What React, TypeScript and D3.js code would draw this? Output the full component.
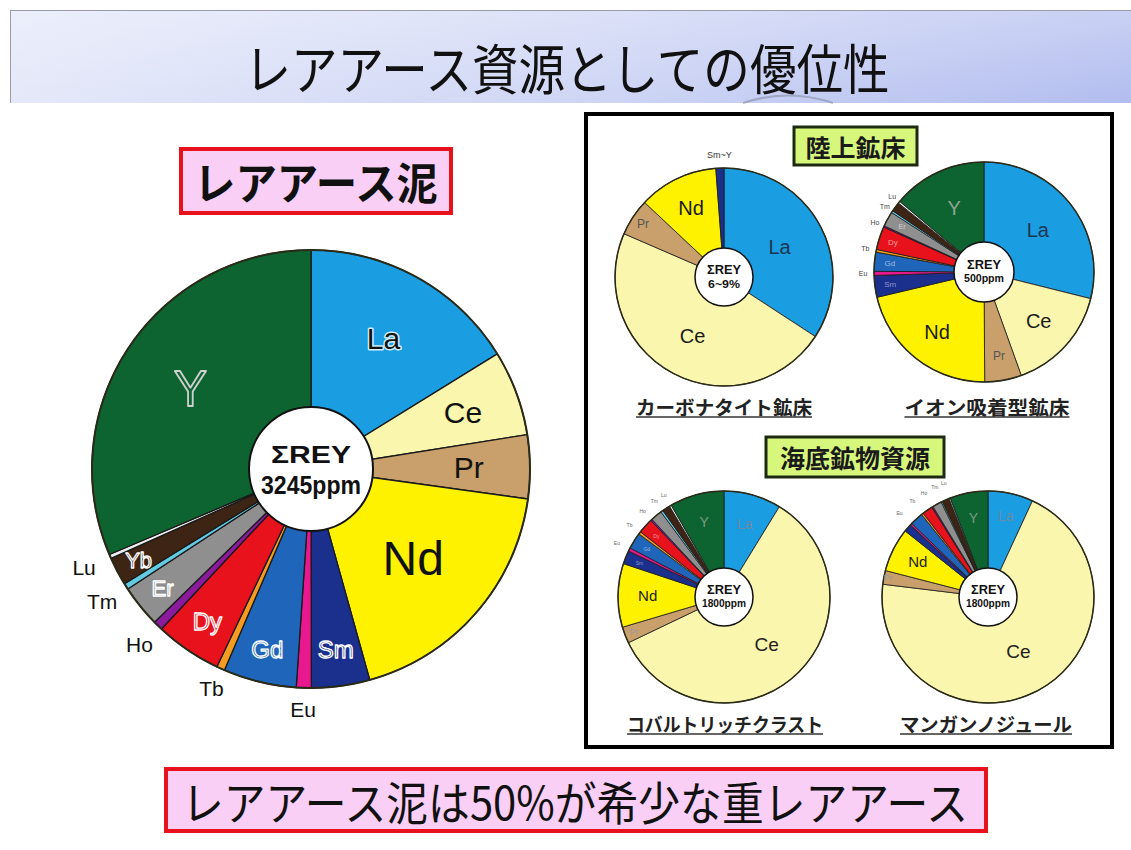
import React from "react";
import * as d3 from "d3";

// ---------- DATA ----------
const elements = ["La", "Ce", "Pr", "Nd", "Sm", "Eu", "Gd", "Tb", "Dy", "Ho", "Er", "Tm", "Yb", "Lu", "Y"];
const elementColors = ["#1b9de2", "#fbf6ad", "#c9a06b", "#fff200", "#1b2f8c", "#e8188e", "#1f66bb", "#f59b1f", "#e8121c", "#8c1a9c", "#8f8f8f", "#62cbe3", "#3d2414", "#ececec", "#0e6431"];

// Rare-earth mud (%), ΣREY 3245 ppm
const mudValues = [16.2, 6.3, 4.7, 18.5, 4.3, 1.1, 5.4, 0.6, 4.9, 0.7, 3.1, 0.45, 2.1, 0.3, 31.4];

// Carbonatite deposit
const carbonatiteNames = ["La", "Ce", "Pr", "Nd", "Sm~Y"];
const carbonatiteValues = [34.2, 47.3, 5.5, 11.8, 1.2];

// Ion-adsorption deposit
const ionValues = [28.9, 15.6, 5.4, 21.4, 3.2, 0.6, 2.8, 0.4, 3.4, 0.2, 2.2, 0.3, 1.4, 0.3, 13.9];
// Cobalt-rich crust
const crustValues = [8.75, 59.15, 2.5, 9.7, 2.05, 0.5, 2.5, 0.4, 2.3, 0.25, 1.75, 0.35, 1.2, 0.3, 8.3];
// Manganese nodule
const noduleValues = [6.9, 70.1, 2.1, 6.7, 1.2, 0.3, 2.0, 0.3, 1.6, 0.2, 1.4, 0.2, 1.1, 0.2, 5.8];

const titleText = "レアアース資源としての優位性";
const mudBoxText = "レアアース泥";
const bottomText = "レアアース泥は50%が希少な重レアアース";
const landHeader = "陸上鉱床";
const seaHeader = "海底鉱物資源";
const subtitles = ["カーボナタイト鉱床", "イオン吸着型鉱床", "コバルトリッチクラスト", "マンガンノジュール"];
const centerTexts = [["ΣREY", "3245ppm"], ["ΣREY", "6~9%"], ["ΣREY", "500ppm"], ["ΣREY", "1800ppm"], ["ΣREY", "1800ppm"]];

// ---------- STYLE / LAYOUT ----------
const LATIN = "'Liberation Sans', Arial, sans-serif";
const CJK = "'Noto Sans CJK JP', 'Noto Sans', sans-serif";
const colorOf = (n: string) => (n === "Sm~Y" ? "#1b2f8c" : elementColors[elements.indexOf(n)]);

type LabelStyle = { f: number; size: number; fill: string; stroke?: string; sw?: number; halo?: boolean };

const bigLabels: Record<string, LabelStyle> = {
  La: { f: 0.68, size: 30, fill: "#111", stroke: "#cfeeff", sw: 3, halo: true },
  Ce: { f: 0.74, size: 30, fill: "#111" },
  Pr: { f: 0.72, size: 30, fill: "#111" },
  Nd: { f: 0.62, size: 48, fill: "#111" },
  Sm: { f: 0.83, size: 24, fill: "#1b2f8c", stroke: "#ffffff", sw: 1.3 },
  Gd: { f: 0.85, size: 24, fill: "#1f66bb", stroke: "#ffffff", sw: 1.3 },
  Dy: { f: 0.84, size: 24, fill: "#e8121c", stroke: "#ffffff", sw: 1.3 },
  Er: { f: 0.87, size: 22, fill: "#8f8f8f", stroke: "#ffffff", sw: 1.3 },
  Yb: { f: 0.89, size: 22, fill: "#3d2414", stroke: "#ffffff", sw: 1.3 },
  Y: { f: 0.66, size: 50, fill: "#0e6431", stroke: "#d0d0d0", sw: 1.8 },
  Lu: { f: 1.13, size: 21, fill: "#111" },
  Tm: { f: 1.13, size: 21, fill: "#111" },
  Ho: { f: 1.12, size: 21, fill: "#111" },
  Tb: { f: 1.1, size: 21, fill: "#111" },
  Eu: { f: 1.1, size: 21, fill: "#111" },
};

const carbLabels: Record<string, LabelStyle> = {
  La: { f: 0.58, size: 20, fill: "#1d3550" },
  Ce: { f: 0.61, size: 20, fill: "#1a1a1a" },
  Nd: { f: 0.7, size: 20, fill: "#1a1a1a" },
  Pr: { f: 0.89, size: 12, fill: "#555" },
  "Sm~Y": { f: 1.12, size: 9, fill: "#333" },
};

const ionLabels: Record<string, LabelStyle> = {
  La: { f: 0.62, size: 20, fill: "#1d3550" },
  Ce: { f: 0.67, size: 20, fill: "#1a1a1a" },
  Pr: { f: 0.78, size: 12, fill: "#555" },
  Nd: { f: 0.69, size: 20, fill: "#1a1a1a" },
  Y: { f: 0.64, size: 20, fill: "#8da592" },
  Sm: { f: 0.86, size: 8, fill: "#8e9ad0" },
  Gd: { f: 0.86, size: 8, fill: "#9fb8e0" },
  Dy: { f: 0.87, size: 8, fill: "#f0a0a0" },
  Er: { f: 0.85, size: 7, fill: "#d0d0d0" },
  Lu: { f: 1.08, size: 7, fill: "#444" },
  Tm: { f: 1.08, size: 7, fill: "#444" },
  Ho: { f: 1.09, size: 7, fill: "#444" },
  Tb: { f: 1.1, size: 7, fill: "#444" },
  Eu: { f: 1.1, size: 7, fill: "#444" },
};

const crustLabels: Record<string, LabelStyle> = {
  La: { f: 0.72, size: 14, fill: "#6c8aa6" },
  Y: { f: 0.73, size: 14, fill: "#7c9a84" },
  Nd: { f: 0.72, size: 15, fill: "#222" },
  Pr: { f: 0.91, size: 9, fill: "#999" },
  Ce: { f: 0.6, size: 19, fill: "#222" },
  Sm: { f: 0.86, size: 5, fill: "#8e9ad0" },
  Gd: { f: 0.86, size: 5, fill: "#9fb8e0" },
  Dy: { f: 0.86, size: 5, fill: "#f0a0a0" },
  Lu: { f: 1.12, size: 5, fill: "#666" },
  Tm: { f: 1.12, size: 5, fill: "#666" },
  Ho: { f: 1.12, size: 5, fill: "#666" },
  Tb: { f: 1.12, size: 5, fill: "#666" },
  Eu: { f: 1.13, size: 5, fill: "#666" },
};

const noduleLabels: Record<string, LabelStyle> = {
  La: { f: 0.78, size: 14, fill: "#6c8aa6" },
  Y: { f: 0.76, size: 14, fill: "#7c9a84" },
  Nd: { f: 0.74, size: 15, fill: "#222" },
  Pr: { f: 0.96, size: 9, fill: "#999" },
  Ce: { f: 0.59, size: 19, fill: "#222" },
  Lu: { f: 1.15, size: 5, fill: "#666" },
  Tm: { f: 1.15, size: 5, fill: "#666" },
  Ho: { f: 1.15, size: 5, fill: "#666" },
  Tb: { f: 1.15, size: 5, fill: "#666" },
  Eu: { f: 1.15, size: 5, fill: "#666" },
};

type PieProps = {
  cx: number; cy: number; r: number; ri: number;
  names: string[]; values: number[];
  labels: Record<string, LabelStyle>;
  center: string[]; c1: number; c2: number; w1: number; w2: number;
  sliceStroke: number; outerStroke: number;
};

function Pie(p: PieProps) {
  const pie = d3.pie<number>().sort(null).startAngle(0).endAngle(2 * Math.PI);
  const arcs = pie(p.values);
  const arc = d3.arc<d3.PieArcDatum<number>>().innerRadius(0).outerRadius(p.r);
  return (
    <g>
      <g transform={`translate(${p.cx},${p.cy})`}>
        {arcs.map((a, i) => (
          <path key={i} d={arc(a) || ""} fill={colorOf(p.names[i])} stroke="#1a1a1a" strokeWidth={p.sliceStroke} strokeLinejoin="round" />
        ))}
        <circle r={p.r} fill="none" stroke="#2a2a18" strokeWidth={p.outerStroke} />
        <circle r={p.ri} fill="#fff" stroke="#111" strokeWidth={p.outerStroke} />
      </g>
      {arcs.map((a, i) => {
        const name = p.names[i];
        const s = p.labels[name];
        if (!s) return null;
        const mid = (a.startAngle + a.endAngle) / 2;
        const x = p.cx + s.f * p.r * Math.sin(mid);
        const y = p.cy - s.f * p.r * Math.cos(mid);
        return (
          <text key={"l" + i} x={x} y={y} textAnchor="middle" dominantBaseline="central"
            fontFamily={LATIN} fontSize={s.size} fill={s.fill}
            stroke={s.stroke || "none"} strokeWidth={s.sw || 0}
            paintOrder={s.halo ? "stroke" : "normal"} strokeLinejoin="round">
            {name}
          </text>
        );
      })}
      <text x={p.cx} y={p.cy - p.c1 * 0.6} textAnchor="middle" dominantBaseline="central"
        fontFamily={LATIN} fontWeight={700} fontSize={p.c1} fill="#111"
        textLength={p.w1} lengthAdjust="spacingAndGlyphs">{p.center[0]}</text>
      <text x={p.cx} y={p.cy + p.c2 * 0.6} textAnchor="middle" dominantBaseline="central"
        fontFamily={LATIN} fontWeight={700} fontSize={p.c2} fill="#111"
        textLength={p.w2} lengthAdjust="spacingAndGlyphs">{p.center[1]}</text>
    </g>
  );
}

function Subtitle({ x, y, text, w }: { x: number; y: number; text: string; w: number }) {
  return (
    <g>
      <text x={x} y={y} textAnchor="middle" dominantBaseline="central" fontFamily={CJK} fontWeight={700}
        fontSize={19} fill="#222" textLength={w} lengthAdjust="spacingAndGlyphs">{text}</text>
      <line x1={x - w / 2} x2={x + w / 2} y1={y + 11} y2={y + 11} stroke="#333" strokeWidth={1.5} />
    </g>
  );
}

export default function App() {
  return (
    <svg width={1131} height={850} style={{ position: "absolute", left: 0, top: 0, background: "#fff" }}>
      <defs>
        <linearGradient id="band" x1="0" y1="0" x2="1" y2="0">
          <stop offset="0" stopColor="#e4e8f9" />
          <stop offset="0.5" stopColor="#cfd6f5" />
          <stop offset="1" stopColor="#b2bdef" />
        </linearGradient>
        <linearGradient id="bandV" x1="0" y1="0" x2="0" y2="1">
          <stop offset="0" stopColor="#ffffff" stopOpacity={0.3} />
          <stop offset="1" stopColor="#ffffff" stopOpacity={0} />
        </linearGradient>
      </defs>
      <rect x={0} y={0} width={1131} height={850} fill="#fff" />
      {/* title band */}
      <rect x={10} y={10} width={1121} height={93} fill="url(#band)" />
      <rect x={10} y={10} width={1121} height={93} fill="url(#bandV)" />
      <line x1={10} x2={1131} y1={10.5} y2={10.5} stroke="#9a9aa8" strokeWidth={1} />
      <line x1={10.5} x2={10.5} y1={10} y2={103} stroke="#9a9aa8" strokeWidth={1} />
      <path d="M743,103 Q788,88 833,103" fill="none" stroke="#8890a8" strokeWidth={2} opacity={0.6} />
      <text x={567} y={66} textAnchor="middle" dominantBaseline="central" fontFamily={CJK} fontWeight={400}
        fontSize={54} fill="#111" textLength={645} lengthAdjust="spacingAndGlyphs">{titleText}</text>

      {/* left header box */}
      <rect x={181} y={149} width={270} height={64} fill="#f9cff6" stroke="#e8121c" strokeWidth={4} />
      <text x={316} y={181} textAnchor="middle" dominantBaseline="central" fontFamily={CJK} fontWeight={700}
        fontSize={44} fill="#111" textLength={244} lengthAdjust="spacingAndGlyphs">{mudBoxText}</text>

      {/* big pie */}
      <Pie cx={311} cy={469} r={219} ri={62} names={elements} values={mudValues} labels={bigLabels}
        center={centerTexts[0]} c1={24} c2={26} w1={80} w2={100} sliceStroke={1.3} outerStroke={2} />

      {/* right panel */}
      <rect x={586} y={114} width={526} height={633} fill="none" stroke="#000" strokeWidth={4} />
      <rect x={794} y={127} width={123} height={38} fill="#d6f67c" stroke="#1c2a12" strokeWidth={3} />
      <text x={855.5} y={146} textAnchor="middle" dominantBaseline="central" fontFamily={CJK} fontWeight={700}
        fontSize={24} fill="#1a1a1a" textLength={100} lengthAdjust="spacingAndGlyphs">{landHeader}</text>
      <rect x={766} y={437} width={178} height={40} fill="#d6f67c" stroke="#1c2a12" strokeWidth={3} />
      <text x={855} y={457} textAnchor="middle" dominantBaseline="central" fontFamily={CJK} fontWeight={700}
        fontSize={25} fill="#1a1a1a" textLength={150} lengthAdjust="spacingAndGlyphs">{seaHeader}</text>

      <Pie cx={724} cy={277} r={109} ri={29} names={carbonatiteNames} values={carbonatiteValues} labels={carbLabels}
        center={centerTexts[1]} c1={12} c2={11} w1={34} w2={32} sliceStroke={0.8} outerStroke={1.5} />
      <Pie cx={984} cy={272} r={110} ri={30} names={elements} values={ionValues} labels={ionLabels}
        center={centerTexts[2]} c1={12} c2={10} w1={34} w2={40} sliceStroke={0.8} outerStroke={1.5} />
      <Pie cx={724} cy={597} r={106} ri={29} names={elements} values={crustValues} labels={crustLabels}
        center={centerTexts[3]} c1={12} c2={10} w1={34} w2={44} sliceStroke={0.8} outerStroke={1.5} />
      <Pie cx={988} cy={597} r={106} ri={29} names={elements} values={noduleValues} labels={noduleLabels}
        center={centerTexts[4]} c1={12} c2={10} w1={34} w2={44} sliceStroke={0.8} outerStroke={1.5} />

      <Subtitle x={724} y={406} text={subtitles[0]} w={176} />
      <Subtitle x={987} y={406} text={subtitles[1]} w={165} />
      <Subtitle x={725} y={723} text={subtitles[2]} w={196} />
      <Subtitle x={986} y={723} text={subtitles[3]} w={172} />

      {/* bottom box */}
      <rect x={166} y={769} width={820} height={62} fill="#f9cff6" stroke="#e8121c" strokeWidth={4} />
      <text x={575} y={800} textAnchor="middle" dominantBaseline="central" fontFamily={CJK} fontWeight={400}
        fontSize={46} fill="#111" textLength={786} lengthAdjust="spacingAndGlyphs">{bottomText}</text>
    </svg>
  );
}
